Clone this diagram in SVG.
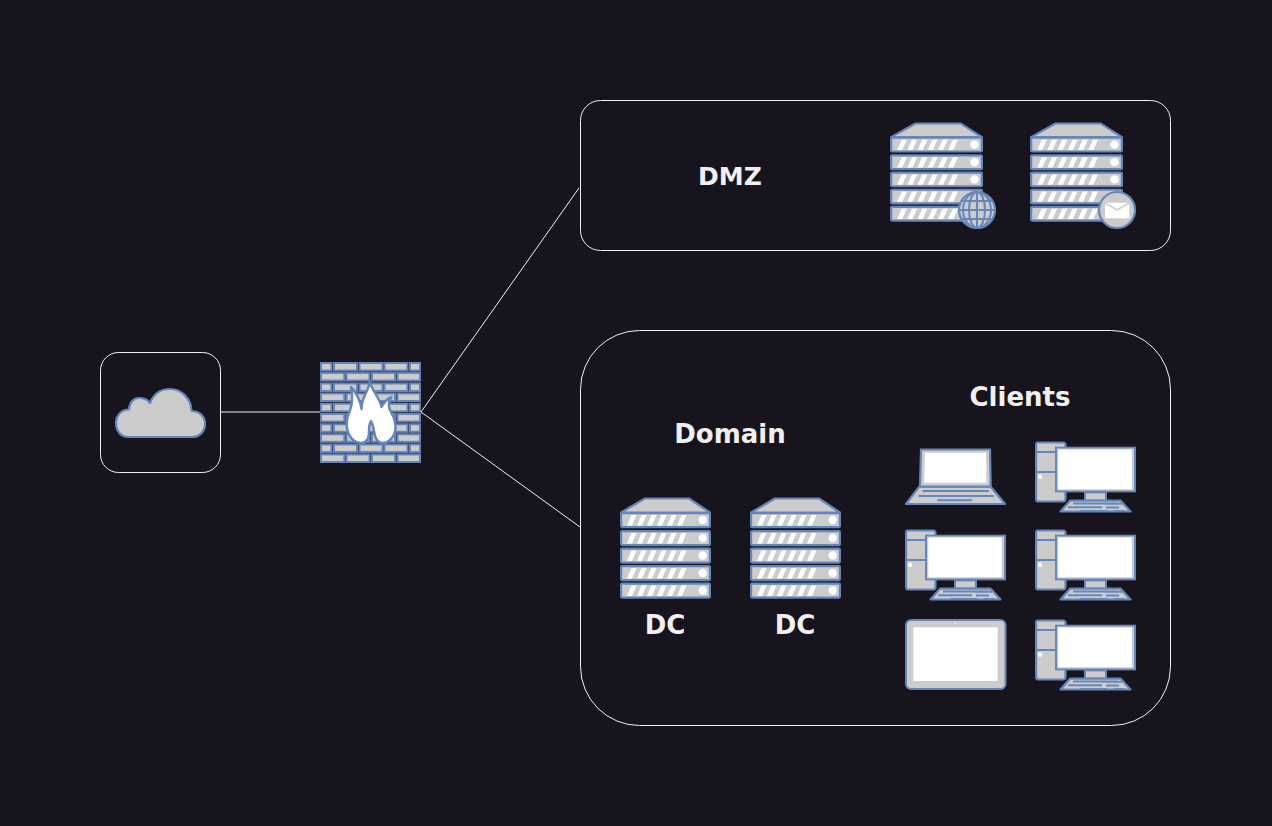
<svg xmlns="http://www.w3.org/2000/svg" width="1272" height="826" viewBox="0 0 1272 826">
<style>
.box{fill:none;stroke:#f0f0f0;stroke-width:1}
.con{fill:none;stroke:#f0f0f0;stroke-width:1}
.lbl{font-family:"DejaVu Sans",sans-serif;font-weight:bold;font-size:26px;fill:#f0f0f0;text-anchor:middle}
.b{fill:#ccc;stroke:#6686ba;stroke-width:2.200;stroke-linejoin:round}
.bt{fill:#ccc;stroke:#6686ba;stroke-width:2}
.w{fill:#fff}
.k{fill:none;stroke:#6686ba;stroke-width:2}
</style>
<defs>
<g id="row">
<rect class="b" x="1.100" y="1.100" width="88.800" height="14" rx="1"/>
<path class="w" d="M7 13.500H12L16.500 3H11.500ZM17 13.500H22L26.500 3H21.500ZM27 13.500H32L36.500 3H31.500ZM37 13.500H42L46.500 3H41.500ZM47 13.500H52L56.500 3H51.500ZM57 13.500H62L66.500 3H61.500Z"/>
<circle class="w" cx="82.700" cy="8" r="4.200"/>
</g>
<g id="server">
<path class="b" d="M1.100 15.500L25 1.500H69L89.900 15.500Z"/>
<use href="#row" y="15"/>
<use href="#row" y="33"/>
<use href="#row" y="50.500"/>
<use href="#row" y="68"/>
<use href="#row" y="85.500"/>
</g>
<g id="pc">
<path class="b" d="M2.500 1.500H28Q30.500 1.500 30.500 4V58Q30.500 60.500 28 60.500H3.500Q1.100 60.500 1.100 58V3.500Q1.100 1.500 2.500 1.500Z"/>
<path class="k" d="M1.100 11H30.500M1.100 31H20"/>
<circle class="w" cx="5" cy="35.700" r="2.200"/>
<rect x="20" y="5.700" width="81" height="45.700" fill="#6686ba"/>
<rect x="22" y="7.500" width="77" height="42" fill="#ccc"/>
<rect class="w" x="23.300" y="8.500" width="73.400" height="39.800"/>
<rect class="bt" x="50" y="51.400" width="21" height="8.300"/>
<path class="b" d="M35 59.700H85.700L95.500 70.500H25.500Z"/>
<path class="k" d="M38 62.500H82M33 66.300H67M70 62.700H87M71 66.500H84M45 70H72M79 70H89"/>
</g>
</defs>
<rect width="1272" height="826" fill="#18141d"/>
<g id="connectors">
<path class="con" d="M220 412H320"/>
<path class="con" d="M421 412L579 188"/>
<path class="con" d="M421 412L580 527"/>
</g>
<g id="cloud-box"><rect class="box" x="100.500" y="352.500" width="120" height="120" rx="18"/></g>
<g id="cloud">
<path class="b" d="M128 437H192C200 437 205 431 205 424C205 417 200 411 191.500 411C191 398 181 389 170 389C161 389 154 393 150 403C147 399 143 398 139 398C134 398 129.500 402 129 409.500C121 409.500 116 416 116 423C116 431 121 437 128 437Z"/>
</g>
<g id="firewall">
<rect x="320" y="362" width="101" height="101" fill="#1f2030"/>
<g fill="#ccc" stroke="#6686ba" stroke-width="2">
<g id="wallA">
<rect x="321" y="363" width="10.500" height="7.500"/><rect x="334" y="363" width="23" height="7.500"/><rect x="359.500" y="363" width="23" height="7.500"/><rect x="384.500" y="363" width="23" height="7.500"/><rect x="410" y="363" width="10" height="7.500"/>
</g>
<g id="wallB">
<rect x="321" y="373" width="23.300" height="7.500"/><rect x="346.500" y="373" width="23" height="7.500"/><rect x="372" y="373" width="23" height="7.500"/><rect x="397.500" y="373" width="22.500" height="7.500"/>
</g>
<use href="#wallA" y="20.500"/><use href="#wallB" y="20.500"/>
<use href="#wallA" y="40.800"/><use href="#wallB" y="41"/>
<use href="#wallA" y="61.300"/><use href="#wallB" y="61.300"/>
<use href="#wallA" y="81.500"/><use href="#wallB" y="81.500"/>
</g>
<path fill="#fff" stroke="#6686ba" stroke-width="2.500" stroke-linejoin="round" d="M370 382C372 391 380 398 381.500 407C384 402 387 399 391.500 397C387 404 389 409 392 414C397 423 397 434 390 440C386 444 380 444 377 440C373 435 375 428 371 421C367 428 371 435 367 440C364 444 358 444 353 440C346 433 345 422 349 413C352 406 353 396 351 387C356 392 361 402 361.500 409C361 398 368 392 370 382Z"/>
</g>
<g id="dmz-box"><rect class="box" x="580.500" y="100.500" width="590" height="150" rx="20"/></g>
<g id="dmz-label"><text class="lbl" style="font-size:25px" x="730" y="185">DMZ</text></g>
<g id="web-server">
<use href="#server" transform="translate(890 122) scale(1.022 .98)"/>
<circle cx="977" cy="210" r="18" fill="#ccc" stroke="#6686ba" stroke-width="2.200"/>
<g class="k"><path d="M959 210H995M961.500 201H992.500M961.500 219H992.500M977 192V228"/><ellipse cx="977" cy="210" rx="8" ry="18"/><ellipse cx="977" cy="210" rx="14" ry="18"/></g>
</g>
<g id="mail-server">
<use href="#server" transform="translate(1030 122) scale(1.022 .98)"/>
<circle cx="1117" cy="210" r="18" fill="#ccc" stroke="#6686ba" stroke-width="2.200"/>
<rect class="w" x="1105" y="202.700" width="24.300" height="15.600"/>
<path fill="none" stroke="#ccc" stroke-width="1.500" d="M1105 203L1117 210L1129.300 203"/>
</g>
<g id="domain-box"><rect class="box" x="580.500" y="330.500" width="590" height="395" rx="59"/></g>
<g id="domain-label"><text class="lbl" x="730" y="443">Domain</text></g>
<g id="clients-label"><text class="lbl" x="1020" y="406">Clients</text></g>
<g id="dc1"><use href="#server" transform="translate(620 497)"/><text class="lbl" x="665" y="634">DC</text></g>
<g id="dc2"><use href="#server" transform="translate(750 497)"/><text class="lbl" x="795" y="634">DC</text></g>
<g id="laptop">
<path class="b" d="M919.300 486.700H990.700L1005 504H906Z"/>
<path fill="#ccc" stroke="#6686ba" stroke-width="2.200" d="M921 449.500H990L990.700 486.700H920Z"/>
<path class="w" d="M925 452.800H986L986.500 482.700H924Z"/>
<path class="k" d="M922.700 491H989M918.300 496H994M937.300 500.300H972"/>
</g>
<g id="pc1"><use href="#pc" transform="translate(1035 441)"/></g>
<g id="pc2"><use href="#pc" transform="translate(905 529)"/></g>
<g id="pc3"><use href="#pc" transform="translate(1035 529)"/></g>
<g id="tablet">
<rect x="906" y="620" width="99.500" height="69" rx="5" fill="#ccc" stroke="#6686ba" stroke-width="2"/>
<rect class="w" x="913.300" y="627.300" width="84.400" height="53.700"/>
<circle class="w" cx="955.300" cy="623.300" r=".7"/>
</g>
<g id="pc4"><use href="#pc" transform="translate(1035 619)"/></g>
</svg>
